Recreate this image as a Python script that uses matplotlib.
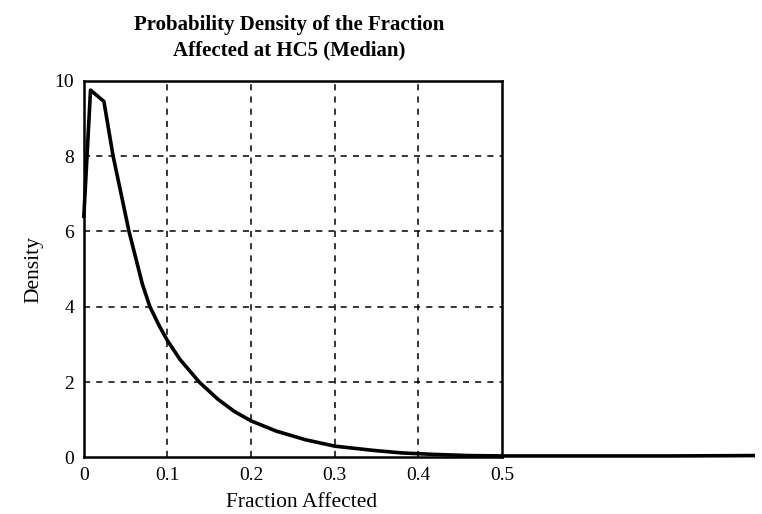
import matplotlib
matplotlib.use("Agg")
import matplotlib.pyplot as plt

# valores
fraccion = [0.0, 0.008, 0.024, 0.035, 0.045, 0.054, 0.062, 0.07, 0.079, 0.09,
            0.1, 0.115, 0.138, 0.16, 0.18, 0.2, 0.23, 0.265, 0.3, 0.345,
            0.38, 0.42, 0.46, 0.5, 0.6, 0.7, 0.8]
densidad = [6.4, 9.75, 9.45, 8.0, 6.95, 6.0, 5.3, 4.6, 4.0, 3.5,
            3.1, 2.6, 2.0, 1.55, 1.22, 0.97, 0.7, 0.47, 0.3, 0.19,
            0.12, 0.08, 0.05, 0.04, 0.04, 0.04, 0.05]

xticks = [0, 0.1, 0.2, 0.3, 0.4, 0.5]
yticks = [0, 2, 4, 6, 8, 10]

plt.rcParams["font.family"] = ["Liberation Serif", "DejaVu Serif"]

fig = plt.figure(figsize=(7.62, 5.14), dpi=100)
ax = fig.add_axes([0.110, 0.110, 0.549, 0.733])

ax.plot(fraccion, densidad, color="black", lw=2.6, clip_on=False, zorder=3)

ax.set_xlim(0, 0.5)
ax.set_ylim(0, 10)
ax.set_xticks(xticks)
ax.set_xticklabels(["0", "0.1", "0.2", "0.3", "0.4", "0.5"])
ax.set_yticks(yticks)
ax.tick_params(length=0, labelsize=14, pad=7)

for x in xticks[1:-1]:
    ax.axvline(x, color="black", ls=(0, (4, 4)), lw=1.1)
for y in yticks[1:-1]:
    ax.axhline(y, color="black", ls=(0, (4, 4)), lw=1.1)

for s in ax.spines.values():
    s.set_linewidth(1.8)

ax.set_title("Probability Density of the Fraction\nAffected at HC5 (Median)",
             fontsize=15, fontweight="bold", pad=18, x=0.49, linespacing=1.35)
ax.set_xlabel("Fraction Affected", fontsize=15.5, labelpad=6, x=0.52)
ax.set_ylabel("Density", fontsize=15.5, labelpad=8)

plt.savefig("out.png", dpi=100)
plt.close()
